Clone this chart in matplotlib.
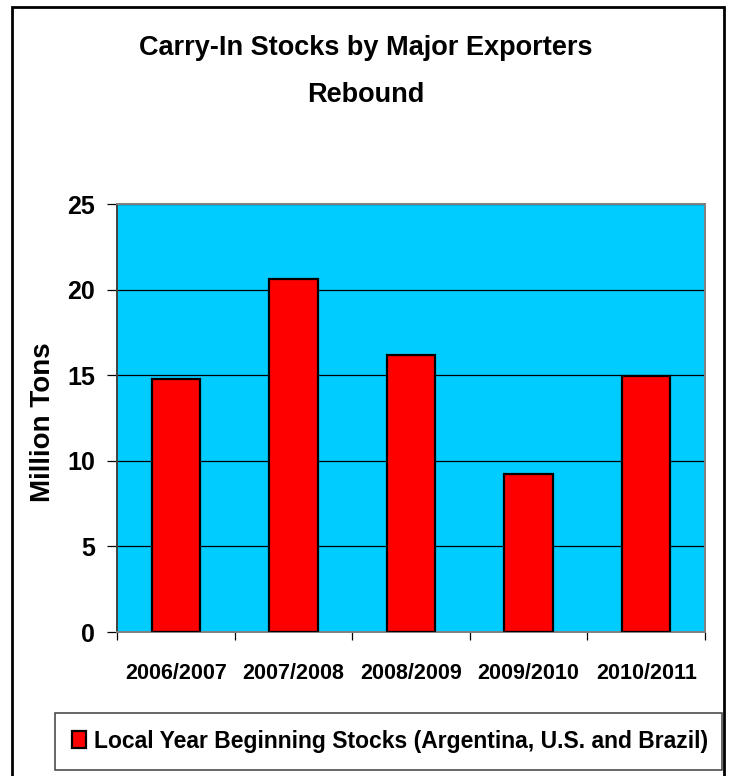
import matplotlib
matplotlib.use("Agg")
import matplotlib.pyplot as plt
from matplotlib.patches import Rectangle

# data
seasons = ["2006/2007", "2007/2008", "2008/2009", "2009/2010", "2010/2011"]
stocks = [14.8, 20.6, 16.2, 9.2, 14.95]
series_name = "Local Year Beginning Stocks (Argentina, U.S. and Brazil)"
y_ticks = [0, 5, 10, 15, 20, 25]

font = ["Liberation Sans", "DejaVu Sans"]

W, H = 730, 776
fig = plt.figure(figsize=(W / 100, H / 100), dpi=100)
fig.patch.set_facecolor("white")

def fx(px):
    return px / W

def fy(py):
    return 1 - py / H

ax = fig.add_axes([fx(117), fy(632), fx(705) - fx(117), fy(204) - fy(632)])
ax.set_facecolor("#00CCFF")

x = range(len(seasons))
ax.bar(x, stocks, width=0.41, color="#FF0000", edgecolor="black",
       linewidth=1.6, label=series_name, zorder=3)

ax.set_ylim(0, 25)
ax.set_xlim(-0.5, len(seasons) - 0.5)
ax.set_yticks(y_ticks)
ax.yaxis.grid(True, color="black", linewidth=0.9, zorder=1)
ax.set_axisbelow(True)

# ticks between categories on x, labels centred under bars
ax.set_xticks([i - 0.5 for i in range(len(seasons) + 1)])
ax.set_xticklabels([])
ax.set_xticks(list(x), minor=True)
ax.set_xticklabels(seasons, minor=True, family=font, fontweight="bold",
                   fontsize=15.5)
ax.tick_params(axis="x", which="major", direction="out", length=6,
               width=0.9, color="black")
ax.tick_params(axis="x", which="minor", length=0, pad=22)
ax.tick_params(axis="y", direction="out", length=7, width=0.9,
               color="black", pad=9)
for lab in ax.get_yticklabels():
    lab.set_family(font)
    lab.set_fontweight("bold")
    lab.set_fontsize(18)

for side in ["top", "right", "bottom", "left"]:
    ax.spines[side].set_color("#808080")
    ax.spines[side].set_linewidth(1.4)
ax.spines["left"].set_color("#404040")

fig.text(fx(43), fy(422), "Million Tons", rotation=90, ha="center",
         va="center", family=font, fontweight="bold", fontsize=20)

fig.text(fx(366), fy(55), "Carry-In Stocks by Major Exporters", ha="center",
         va="baseline", family=font, fontweight="bold", fontsize=19.5)
fig.text(fx(366), fy(102), "Rebound", ha="center", va="baseline",
         family=font, fontweight="bold", fontsize=19.5)

leg = fig.legend(loc="lower left", mode="expand",
                 bbox_to_anchor=(fx(55), fy(770), fx(722) - fx(55),
                                 fy(715) - fy(770)),
                 prop={"family": font, "weight": "bold", "size": 16.5},
                 frameon=True, fancybox=False, shadow=False,
                 handlelength=0.6, handleheight=0.75, handletextpad=0.35,
                 borderpad=0.75, borderaxespad=0)
leg.get_frame().set_edgecolor("#202020")
leg.get_frame().set_linewidth(1.2)

fig.patches.append(Rectangle((fx(12), fy(790)), fx(724) - fx(12),
                             fy(7) - fy(790), transform=fig.transFigure,
                             fill=False, edgecolor="black", linewidth=2.0))

fig.savefig("out.png", dpi=100)
